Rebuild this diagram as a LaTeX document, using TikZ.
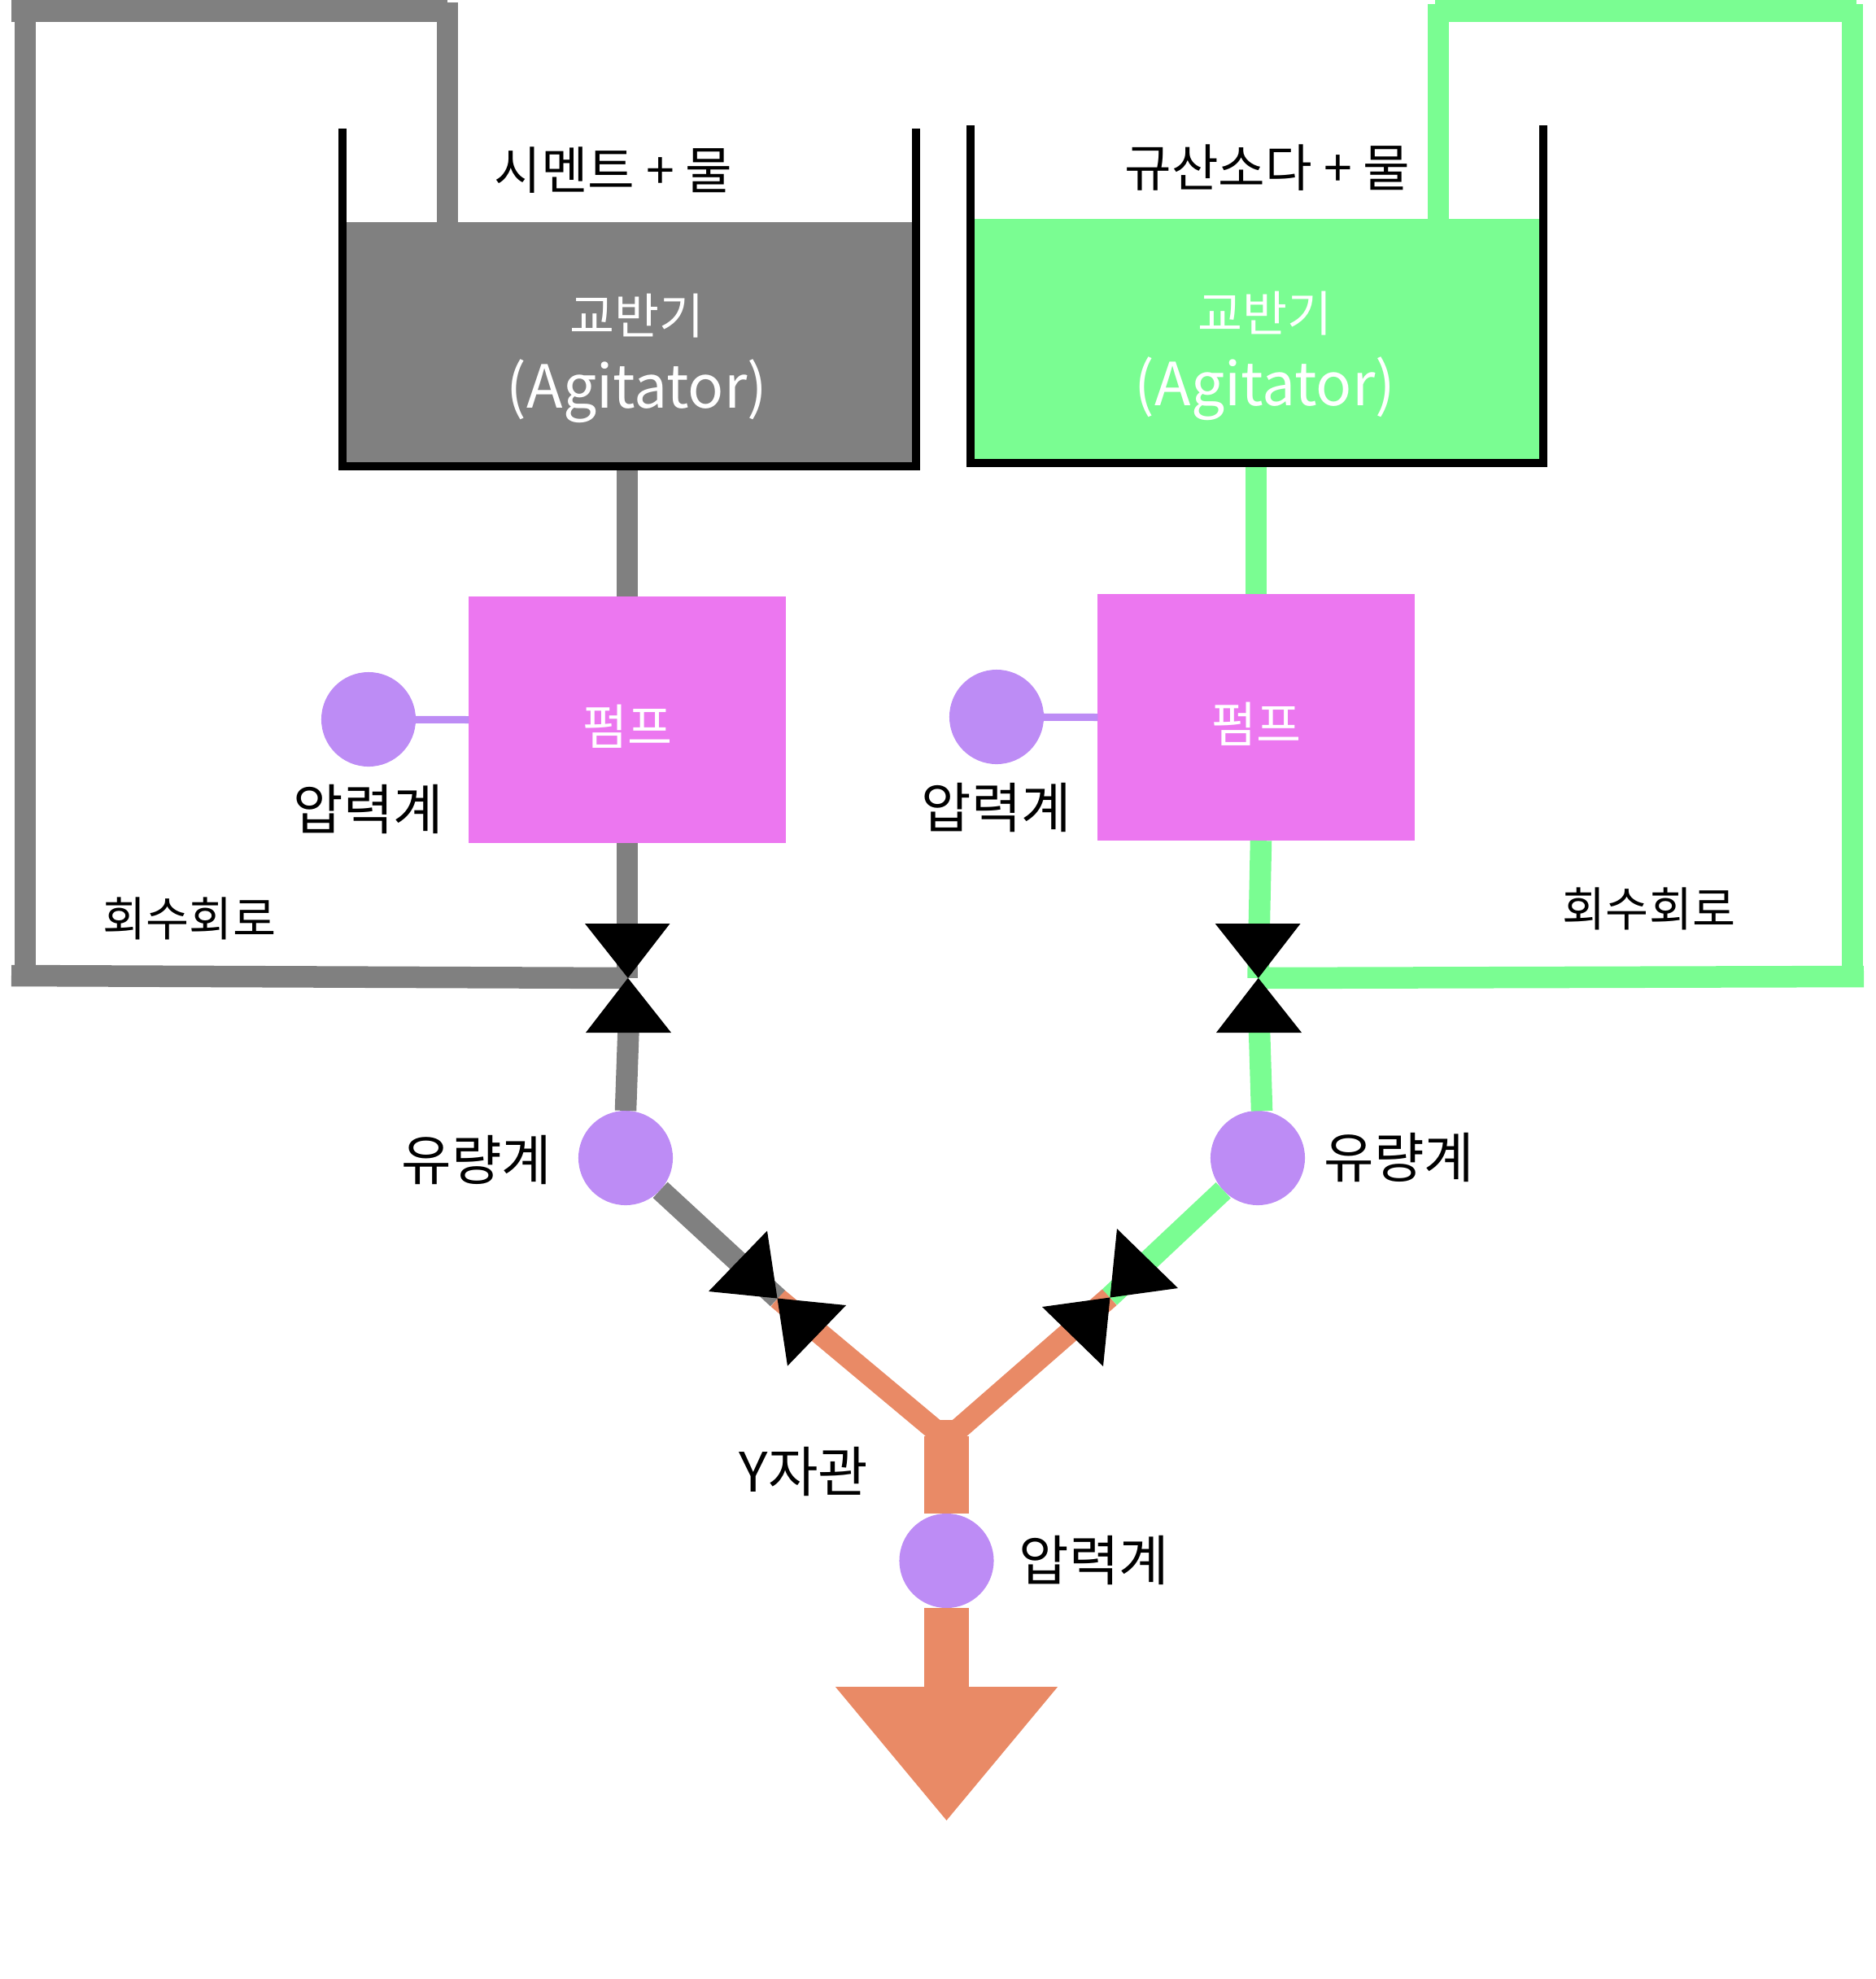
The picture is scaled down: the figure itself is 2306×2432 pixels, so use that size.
\documentclass[tikz,border=0pt]{standalone}
\usepackage{fontspec}
\setmainfont{Noto Sans CJK KR}
\usetikzlibrary{arrows.meta}
\definecolor{gris}{HTML}{808080}
\definecolor{vert}{HTML}{7AFD92}
\definecolor{rose}{HTML}{EC77F0}
\definecolor{violet}{HTML}{BD8CF5}
\definecolor{corail}{HTML}{E98A66}
\begin{document}
\begin{tikzpicture}[x=0.01cm,y=-0.01cm]
			% Styles
			\tikzstyle{tuyau}=[line width=0.265cm]
			\tikzstyle{paroi}=[line width=0.1cm,black]
			\tikzstyle{cuve}=[inner sep=0,outer sep=0,minimum width=7.05cm,minimum height=3cm]
			\tikzstyle{pompe}=[fill=rose,inner sep=0,outer sep=0,minimum width=3.89cm,minimum height=3.03cm]
			\tikzstyle{jauge}=[circle,fill=violet,inner sep=0,outer sep=0,minimum size=1.16cm]
			\tikzstyle{vanne}=[black]
			\tikzstyle{commentaire}=[black,font=\fontsize{19}{24}\selectfont]
			\tikzstyle{titre}=[black,font=\fontsize{17.8}{24}\selectfont]
			\tikzstyle{retour}=[black,font=\fontsize{16.4}{24}\selectfont]
			\tikzstyle{interne}=[white,font=\fontsize{17}{24}\selectfont]
			\tikzstyle{latin}=[white,font=\fontsize{20.8}{24}\selectfont]
			% Dimensions
			\def\ColonneA{771}
			\def\ColonneB{1544}
			\useasboundingbox (0,0) rectangle (2306,2432);
			% Noeuds
			\node[cuve,fill=gris] (cuveA) at (773.5,423) {};
			\node[cuve,fill=vert] (cuveB) at (1545,419) {};
			\node[pompe] (pompeA) at ({\ColonneA},884.5) {};
			\node[pompe] (pompeB) at ({\ColonneB},881.5) {};
			\node[jauge] (pressionA) at (453,884) {};
			\node[jauge] (pressionB) at (1225,881) {};
			\node[jauge] (debitA) at (769,1423) {};
			\node[jauge] (debitB) at (1546,1423) {};
			\node[jauge] (pressionC) at (1163.5,1918) {};
			%
			\coordinate (bordAg) at (421,158);
			\coordinate (bordAd) at (1126,158);
			\coordinate (bordBg) at (1192.5,154);
			\coordinate (bordBd) at (1897,154);
			\coordinate (vanneA) at (771,1202);
			\coordinate (vanneAb) at (772.5,1265);
			\coordinate (vanneB) at (1546.5,1202);
			\coordinate (vanneBb) at (1548,1265);
			\coordinate (vanneC) at (956,1595.5);
			\coordinate (vanneD) at (1364,1594);
			\coordinate (jonction) at (1163.5,1769);
			\coordinate (jonctionH) at (1163.5,1745);
			\coordinate (tige) at (1163.5,1765);
			\coordinate (pointe) at (1163.5,2238);
			% Retours
			\coordinate (retourAa) at (14,1199);
			\coordinate (retourAb) at (31,1199);
			\coordinate (retourAc) at (31,13);
			\coordinate (retourAd) at (14,13.5);
			\coordinate (retourAe) at (550,13.5);
			\coordinate (retourAf) at (550,3);
			\coordinate (retourBa) at (2291,1200);
			\coordinate (retourBb) at (2277,1213);
			\coordinate (retourBc) at (2277,5);
			\coordinate (retourBd) at (2282,13.5);
			\coordinate (retourBe) at (1764,13.5);
			\coordinate (retourBf) at (1768,5);
			% Arcs
			\draw[tuyau,corail] (vanneC)--(jonction);
			\draw[tuyau,corail] (vanneD)--(jonction);
			\draw[line width=0.2cm,corail] (jonctionH)--(jonction);
			\draw[line width=0.55cm,corail] (tige)--(pressionC);
			\draw[line width=0.55cm,corail,-{Triangle[length=1.65cm,width=2.62cm]}] (pressionC)--(pointe);
			%
			\draw[tuyau,gris] (cuveA.south-|pompeA.north)--(pompeA.north);
			\draw[tuyau,gris] (pompeA.south)--(vanneA);
			\draw[tuyau,gris] (vanneAb)--(debitA.north);
			\draw[tuyau,gris] (debitA)--(vanneC);
			\draw[tuyau,gris] (vanneA)--(retourAa);
			\draw[tuyau,gris] (retourAb)--(retourAc);
			\draw[tuyau,gris] (retourAd)--(retourAe);
			\draw[tuyau,gris] (retourAf)--(retourAf|-cuveA.north);
			%
			\draw[tuyau,vert] (cuveB.south-|pompeB.north)--(pompeB.north);
			\draw[tuyau,vert] ([xshift=0.06cm]pompeB.south)--(vanneB);
			\draw[tuyau,vert] (vanneBb)--(debitB.85);
			\draw[tuyau,vert] (debitB)--(vanneD);
			\draw[tuyau,vert] (vanneB)--(retourBa);
			\draw[tuyau,vert] (retourBb)--(retourBc);
			\draw[tuyau,vert] (retourBd)--(retourBe);
			\draw[tuyau,vert] (retourBf)--(retourBf|-cuveB.north);
			%
			\draw[line width=0.09cm,violet] (pressionA)--(pompeA.west);
			\draw[line width=0.09cm,violet] (pressionB)--(pompeB.west);
			\draw[paroi] (bordAg)|-(cuveA.south)-|(bordAd);
			\draw[paroi] (bordBg)|-(cuveB.south)-|(bordBd);
			% Vannes
			\fill[vanne] (719,1135)--(823.5,1135)--(720,1269)--(825,1269)--cycle;
			\fill[vanne] (1493.7,1135)--(1598.5,1135)--(1495,1269)--(1600,1269)--cycle;
			\fill[vanne] (943,1512.5)--(871,1587)--(1040,1604)--(968,1678.6)--cycle;
			\fill[vanne] (1373,1510)--(1448,1583)--(1281,1606)--(1356,1679)--cycle;
			% Textes
			\node[titre] (nomA) at (754,209) {시멘트 + 물};
			\node[titre] (nomB) at (1558,206) {규산소다 + 물};
			\node[interne] (texteA) at (783,388) {교반기};
			\node[latin] (latinA) at (783,481) {(Agitator)};
			\node[interne] (texteB) at (1555,385) {교반기};
			\node[latin] (latinB) at (1555,478) {(Agitator)};
			\node[interne] (labelPompeA) at ({\ColonneA},893) {펌프};
			\node[interne] (labelPompeB) at ({\ColonneB},890) {펌프};
			\node[commentaire] (labelPa) at (453,994) {압력계};
			\node[commentaire] (labelPb) at (1225,992) {압력계};
			\node[commentaire] (labelPc) at (1345,1917) {압력계};
			\node[retour] (labelRa) at (233,1129) {회수회로};
			\node[retour] (labelRb) at (2027,1117) {회수회로};
			\node[commentaire] (labelDa) at (586,1425) {유량계};
			\node[commentaire] (labelDb) at (1720,1422) {유량계};
			\node[commentaire] (labelY) at (988,1808) {Y자관};
		\end{tikzpicture}
\end{document}
